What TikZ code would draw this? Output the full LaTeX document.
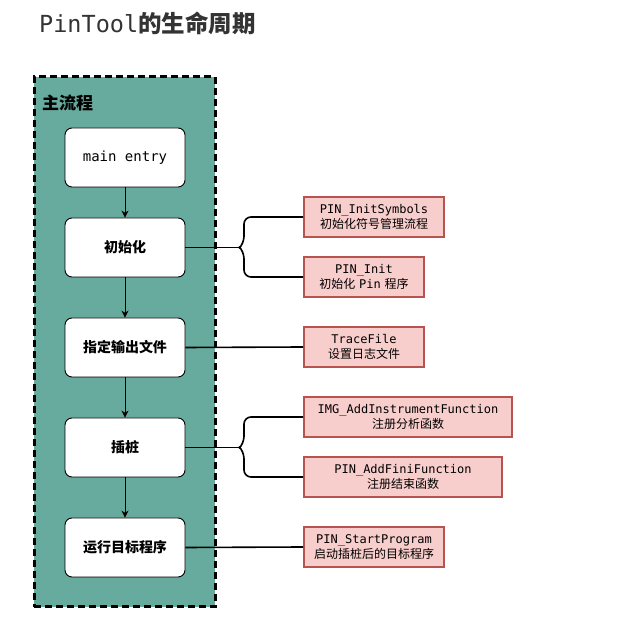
\documentclass[tikz,border=0pt]{standalone}
\usepackage{fontspec}
\setmonofont{DejaVu Sans Mono}
\newfontfamily\cjk{Noto Sans CJK SC}
\usetikzlibrary{arrows.meta}
\definecolor{teal}{HTML}{67AB9F}
\definecolor{pinkfill}{HTML}{F8CECC}
\definecolor{pinkline}{HTML}{B85450}
\definecolor{titlegray}{HTML}{333333}
\tikzset{
  mainbox/.style={draw=black, line width=0.9pt, fill=white, rounded corners=7pt,
    minimum width=120pt, minimum height=59pt, inner sep=0pt, align=center,
    font=\fontsize{14}{16}\selectfont},
  funcbox/.style={draw=pinkline, line width=1.8pt, fill=pinkfill,
    minimum height=40pt, inner sep=0pt, align=center,
    font=\fontsize{12}{15}\selectfont},
  conn/.style={line width=1.6pt, draw=black},
  flow/.style={line width=0.9pt, -{Stealth[length=7pt,width=7pt]}},
}
\begin{document}
\begin{tikzpicture}[x=1pt,y=-1pt]
\useasboundingbox (0,0) rectangle (633,628);
% title
\node[anchor=west, inner sep=0pt, text=titlegray] (title) at (39,23)
  {\fontsize{23.5}{26}\selectfont\ttfamily PinTool\cjk\bfseries 的生命周期};
% container
\node[draw=black, fill=teal, line width=3pt, dash pattern=on 7pt off 4pt,
  minimum width=181pt, minimum height=530pt, inner sep=0pt] (cont) at (124.5,342) {};
\node[anchor=west, inner sep=0pt] (ctitle) at (42,103)
  {\fontsize{17}{20}\selectfont\cjk\bfseries 主流程};
% main boxes
\node[mainbox] (entry) at (125,157.5) {\ttfamily main entry};
\node[mainbox] (init) at (125,247.5) {\cjk\bfseries 初始化};
\node[mainbox] (out) at (125,347.5) {\cjk\bfseries 指定输出文件};
\node[mainbox] (inst) at (125,447.5) {\cjk\bfseries 插桩};
\node[mainbox] (run) at (125,547.5) {\cjk\bfseries 运行目标程序};
\draw[flow] (entry) -- (init);
\draw[flow] (init) -- (out);
\draw[flow] (out) -- (inst);
\draw[flow] (inst) -- (run);
% function boxes
\node[funcbox, minimum width=140pt] (sym) at (374,217)
  {\ttfamily PIN\_InitSymbols\\\cjk 初始化符号管理流程};
\node[funcbox, minimum width=120pt] (pinit) at (364,277)
  {\ttfamily PIN\_Init\\{\cjk 初始化} {\ttfamily Pin} {\cjk 程序}};
\node[funcbox, minimum width=120pt] (trace) at (364,347)
  {\ttfamily TraceFile\\\cjk 设置日志文件};
\node[funcbox, minimum width=208pt] (img) at (408,417)
  {\ttfamily IMG\_AddInstrumentFunction\\\cjk 注册分析函数};
\node[funcbox, minimum width=198pt] (fini) at (403,477)
  {\ttfamily PIN\_AddFiniFunction\\\cjk 注册结束函数};
\node[funcbox, minimum width=140pt] (start) at (374,547)
  {\ttfamily PIN\_StartProgram\\\cjk 启动插桩后的目标程序};
% connectors
\coordinate (b1) at (240,247.5);
\coordinate (b2) at (240,447.5);
\draw[conn] (init.east) -- (b1);
\draw[conn, rounded corners=7pt] (b1) -- ++(4,-4) |- (sym.west);
\draw[conn, rounded corners=7pt] (b1) -- ++(4,4) |- (pinit.west);
\draw[conn] (out.east) -- (trace.west);
\draw[conn] (inst.east) -- (b2);
\draw[conn, rounded corners=7pt] (b2) -- ++(4,-4) |- (img.west);
\draw[conn, rounded corners=7pt] (b2) -- ++(4,4) |- (fini.west);
\draw[conn] (run.east) -- (start.west);
\end{tikzpicture}
\end{document}
